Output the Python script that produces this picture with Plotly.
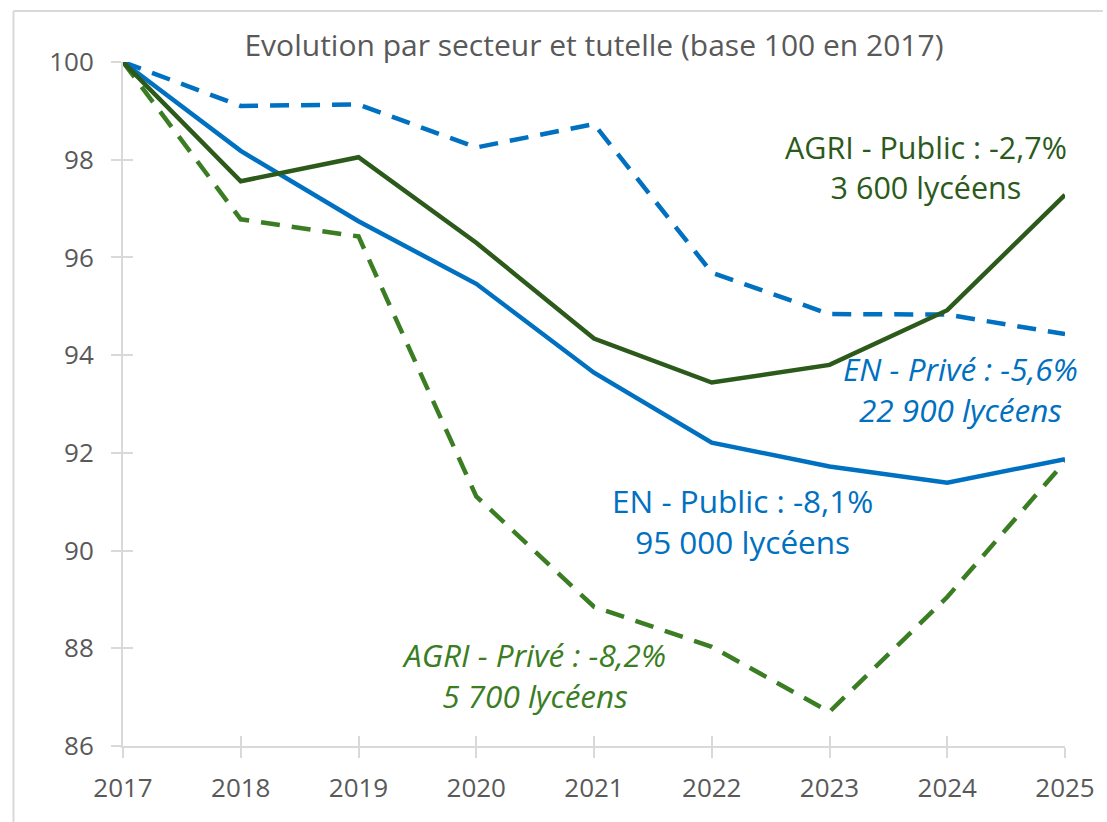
import plotly.graph_objects as go

years = [2017, 2018, 2019, 2020, 2021, 2022, 2023, 2024, 2025]
en_public = [100, 98.18, 96.74, 95.46, 93.64, 92.21, 91.72, 91.39, 91.87]
agri_public = [100, 97.56, 98.05, 96.30, 94.34, 93.44, 93.80, 94.92, 97.28]
en_prive = [100, 99.10, 99.13, 98.25, 98.73, 95.69, 94.84, 94.83, 94.43]
agri_prive = [100, 96.78, 96.43, 91.11, 88.85, 88.03, 86.70, 89.05, 91.82]

y_ticks = [86, 88, 90, 92, 94, 96, 98, 100]

title_text = "Evolution par secteur et tutelle (base 100 en 2017)"
labels = {
    "agri_public": "AGRI - Public : -2,7%<br>3 600 lycéens",
    "en_prive": "EN - Privé : -5,6%<br>22 900 lycéens",
    "en_public": "EN - Public : -8,1%<br>95 000 lycéens",
    "agri_prive": "AGRI - Privé : -8,2%<br>5 700 lycéens",
}

BLUE = "#0070C0"
DARK_GREEN = "#2B5A1B"
GREEN = "#3B7D23"
GREY_TXT = "#595959"
AXIS = "#D9D9D9"
FONT = "Open Sans, Liberation Sans, Arial, sans-serif"

W, H = 1107, 822
L, R, T, B = 123, 38, 62, 76
PW, PH = W - L - R, H - T - B

fig = go.Figure()
fig.add_trace(go.Scatter(x=years, y=en_prive, mode="lines", name="EN - Privé",
                         line=dict(color=BLUE, width=4.5, dash="19px,12px")))
fig.add_trace(go.Scatter(x=years, y=agri_prive, mode="lines", name="AGRI - Privé",
                         line=dict(color=GREEN, width=4.5, dash="19px,12px")))
fig.add_trace(go.Scatter(x=years, y=en_public, mode="lines", name="EN - Public",
                         line=dict(color=BLUE, width=4.5)))
fig.add_trace(go.Scatter(x=years, y=agri_public, mode="lines", name="AGRI - Public",
                         line=dict(color=DARK_GREEN, width=4.5)))
# helper trace to draw the inner half of the crossing tick marks
fig.add_trace(go.Scatter(x=[years[0]], y=[y_ticks[-1]], xaxis="x2", yaxis="y2",
                         mode="markers", marker=dict(opacity=0), hoverinfo="skip",
                         showlegend=False))

ann_style = [
    ("agri_public", 2023.82, 97.85, DARK_GREEN, False, 30.5),
    ("en_prive", 2024.11, 93.30, BLUE, True, 31.5),
    ("en_public", 2022.26, 90.60, BLUE, False, 31.5),
    ("agri_prive", 2020.49, 87.45, GREEN, True, 31.5),
]
annotations = []
for key, ax, ay, col, ital, size in ann_style:
    txt = labels[key]
    if ital:
        txt = "<i>" + txt.replace("<br>", "</i><br><i>") + "</i>"
    annotations.append(dict(x=ax, y=ay, xref="x", yref="y", text=txt, showarrow=False,
                            xanchor="center", yanchor="middle",
                            font=dict(family=FONT, size=size, color=col)))

border_x = (13 - L) / PW
border_y = 1 + (T - 11) / PH

fig.update_layout(
    width=W, height=H,
    margin=dict(l=L, r=R, t=T, b=B),
    paper_bgcolor="white", plot_bgcolor="white",
    showlegend=False,
    title=dict(text=title_text, x=0.5, xref="paper", y=1 - 45 / H, yanchor="middle",
               xanchor="center", font=dict(family=FONT, size=30, color=GREY_TXT)),
    xaxis=dict(range=[2017, 2025], tickmode="array", tickvals=years,
               ticktext=[str(y) for y in years], showgrid=False, zeroline=False,
               showline=True, linecolor=AXIS, linewidth=2, ticks="outside",
               ticklen=10, tickwidth=2, tickcolor=AXIS, ticklabelstandoff=8,
               tickfont=dict(family=FONT, size=26, color=GREY_TXT)),
    yaxis=dict(range=[86, 100], tickmode="array", tickvals=y_ticks,
               ticktext=[str(v) for v in y_ticks], showgrid=False, zeroline=False,
               showline=True, linecolor=AXIS, linewidth=2, ticks="outside",
               ticklen=10, tickwidth=2, tickcolor=AXIS, ticklabelstandoff=12,
               tickfont=dict(family=FONT, size=26, color=GREY_TXT)),
    xaxis2=dict(range=[2017, 2025], overlaying="x", anchor="y2", tickmode="array",
                tickvals=years, showticklabels=False, showgrid=False, zeroline=False,
                showline=False, ticks="inside", ticklen=10, tickwidth=2, tickcolor=AXIS),
    yaxis2=dict(range=[86, 100], overlaying="y", anchor="x2", tickmode="array",
                tickvals=y_ticks, showticklabels=False, showgrid=False, zeroline=False,
                showline=False, ticks="inside", ticklen=10, tickwidth=2, tickcolor=AXIS),
    annotations=annotations,
    shapes=[
        dict(type="line", xref="paper", yref="paper", x0=border_x, x1=border_x,
             y0=-B / PH, y1=border_y, line=dict(color=AXIS, width=2)),
        dict(type="line", xref="paper", yref="paper", x0=border_x, x1=(W - L) / PW,
             y0=border_y, y1=border_y, line=dict(color=AXIS, width=2)),
    ],
)

fig.write_html(
    "out.html",
    config={"displayModeBar": False},
    post_script="document.body.style.margin='0';document.body.style.overflow='hidden';",
)
